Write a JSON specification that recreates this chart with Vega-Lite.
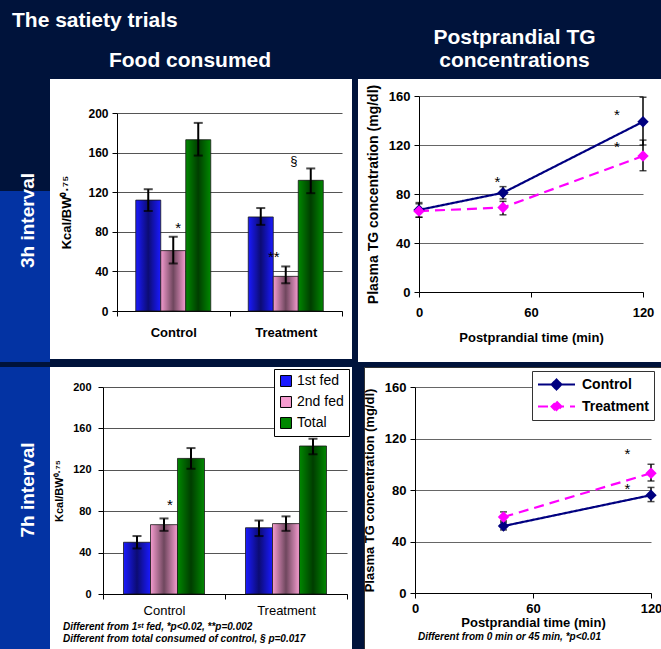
{
  "$schema": "https://vega.github.io/schema/vega-lite/v6.json",
  "background": "#00133b",
  "padding": {"left": 0, "top": 10, "right": 0, "bottom": 0},
  "config": {
    "font": "Liberation Sans",
    "view": {"stroke": null},
    "axis": {"labelColor": "black", "titleColor": "black", "domainColor": "black", "tickColor": "black", "labelFont": "Liberation Sans", "titleFont": "Liberation Sans"},
    "title": {"font": "Liberation Sans"}
  },
  "datasets": {
    "bars3h": [
      {"group": "Control", "series": "1st fed", "value": 112, "lo": 101, "hi": 123},
      {"group": "Control", "series": "2nd fed", "value": 61, "lo": 48, "hi": 75},
      {"group": "Control", "series": "Total", "value": 173, "lo": 157, "hi": 190},
      {"group": "Treatment", "series": "1st fed", "value": 95, "lo": 87, "hi": 104},
      {"group": "Treatment", "series": "2nd fed", "value": 35, "lo": 28, "hi": 45},
      {"group": "Treatment", "series": "Total", "value": 132, "lo": 119, "hi": 144}
    ],
    "bars7h": [
      {"group": "Control", "series": "1st fed", "value": 50, "lo": 44, "hi": 56},
      {"group": "Control", "series": "2nd fed", "value": 67, "lo": 61, "hi": 73},
      {"group": "Control", "series": "Total", "value": 131, "lo": 121, "hi": 141},
      {"group": "Treatment", "series": "1st fed", "value": 64, "lo": 56, "hi": 71},
      {"group": "Treatment", "series": "2nd fed", "value": 68, "lo": 61, "hi": 75},
      {"group": "Treatment", "series": "Total", "value": 143, "lo": 135, "hi": 150}
    ],
    "ann3h": [
      {"group": "Control", "series": "2nd fed", "value": 88, "label": "*"},
      {"group": "Treatment", "series": "2nd fed", "value": 59, "label": "**"},
      {"group": "Treatment", "series": "Total", "value": 152, "label": "§"}
    ],
    "ann7h": [
      {"group": "Control", "series": "2nd fed", "value": 90, "label": "*"}
    ],
    "tg3h": [
      {"time": 0, "grp": "Control", "tg": 67, "lo": 61, "hi": 73},
      {"time": 45, "grp": "Control", "tg": 81, "lo": 76, "hi": 86},
      {"time": 120, "grp": "Control", "tg": 139, "lo": 120, "hi": 159},
      {"time": 0, "grp": "Treatment", "tg": 66, "lo": 61, "hi": 72},
      {"time": 45, "grp": "Treatment", "tg": 69, "lo": 63, "hi": 74},
      {"time": 120, "grp": "Treatment", "tg": 111, "lo": 99, "hi": 124}
    ],
    "tg7h": [
      {"time": 45, "grp": "Control", "tg": 52, "lo": 49, "hi": 55},
      {"time": 120, "grp": "Control", "tg": 76, "lo": 71, "hi": 82},
      {"time": 45, "grp": "Treatment", "tg": 59, "lo": 56, "hi": 63},
      {"time": 120, "grp": "Treatment", "tg": 93, "lo": 87, "hi": 100}
    ],
    "stars3h": [
      {"time": 42, "tg": 93, "label": "*"},
      {"time": 106, "tg": 148, "label": "*"},
      {"time": 106, "tg": 122, "label": "*"}
    ],
    "stars7h": [
      {"time": 108, "tg": 111, "label": "*"},
      {"time": 108, "tg": 84, "label": "*"}
    ]
  },
  "title": {"text": "The satiety trials", "anchor": "start", "dx": 12, "offset": -4, "fontSize": 21, "fontWeight": "bold", "color": "white"},
  "resolve": {"scale": {"color": "independent", "strokeDash": "independent", "xOffset": "independent"}, "legend": {"color": "independent"}},
  "spacing": 4,
  "vconcat": [
    {
      "spacing": 0,
      "resolve": {"scale": {"color": "independent", "strokeDash": "independent", "xOffset": "independent"}, "legend": {"color": "independent"}},
      "hconcat": [
        {
          "width": 50, "height": 283,
          "view": {"stroke": null, "fill": {"gradient": "linear", "x1": 0, "y1": 0, "x2": 0, "y2": 1, "stops": [{"offset": 0, "color": "#00133b"}, {"offset": 0.396, "color": "#00133b"}, {"offset": 0.397, "color": "#0333a3"}, {"offset": 1, "color": "#0333a3"}]}},
          "data": {"values": [{"label": "3h interval"}]},
          "mark": {"type": "text", "angle": 270, "fontSize": 19, "fontWeight": "bold", "color": "white", "dy": 3},
          "encoding": {"text": {"field": "label"}}
        },
        {
          "spacing": 6,
          "resolve": {"scale": {"color": "independent", "strokeDash": "independent", "xOffset": "independent"}, "legend": {"color": "independent"}},
          "hconcat": [
            {
              "width": 302, "height": 280,
              "view": {"fill": "white", "stroke": null},
              "title": {"text": "Food consumed", "fontSize": 21, "fontWeight": "bold", "color": "white", "offset": 8, "dx": -11},
              "data": {"name": "bars3h"},
              "encoding": {
                "x": {"field": "group", "type": "nominal", "sort": ["Control", "Treatment"],
                  "scale": {"range": [67, 292], "paddingInner": 0, "paddingOuter": 0},
                  "axis": {"title": null, "offset": -48, "labelAngle": 0, "labelFontSize": 13, "labelFontWeight": "bold", "labelPadding": 10, "tickBand": "extent", "tickSize": 5, "grid": false}},
                "xOffset": {"field": "series", "type": "nominal", "sort": ["1st fed", "2nd fed", "Total"], "scale": {"paddingInner": 0, "paddingOuter": 0.75}}
              },
              "layer": [
                {"mark": {"type": "bar", "stroke": "#1a1a1a", "strokeWidth": 0.8},
                 "encoding": {
                   "y": {"field": "value", "type": "quantitative",
                     "scale": {"domain": [0, 200], "range": [232, 34], "nice": false},
                     "axis": {"title": "Kcal/BW⁰·⁷⁵", "offset": -67, "values": [0, 40, 80, 120, 160, 200], "labelFontSize": 12, "labelFontWeight": "bold", "tickSize": 5, "labelPadding": 4, "titleFontSize": 13, "titleFontWeight": "bold", "titlePadding": 14, "grid": true, "gridColor": "#555"}},
                   "color": {"field": "series", "type": "nominal", "scale": {"domain": ["1st fed", "2nd fed", "Total"], "range": ["#1a1aff", "#f59ccf", "#008800"]}, "legend": null}}},
                {"mark": {"type": "bar", "fill": {"gradient": "linear", "x1": 0, "y1": 0, "x2": 1, "y2": 0, "stops": [{"offset": 0, "color": "rgba(0,0,0,0)"}, {"offset": 0.5, "color": "rgba(0,0,0,0.55)"}, {"offset": 1, "color": "rgba(0,0,0,0)"}]}, "stroke": null},
                 "encoding": {"y": {"field": "value", "type": "quantitative"}}},
                {"mark": {"type": "rule", "color": "black", "strokeWidth": 2},
                 "encoding": {"y": {"field": "lo", "type": "quantitative"}, "y2": {"field": "hi"}}},
                {"mark": {"type": "tick", "orient": "horizontal", "color": "black", "size": 9, "thickness": 2},
                 "encoding": {"y": {"field": "lo", "type": "quantitative"}}},
                {"mark": {"type": "tick", "orient": "horizontal", "color": "black", "size": 9, "thickness": 2},
                 "encoding": {"y": {"field": "hi", "type": "quantitative"}}},
                {"data": {"name": "ann3h"}, "transform": [{"filter": "datum.label === '*'"}],
                 "mark": {"type": "text", "fontSize": 15, "dx": 5, "dy": 4, "color": "black"},
                 "encoding": {"y": {"field": "value", "type": "quantitative"}, "text": {"field": "label"}}},
                {"data": {"name": "ann3h"}, "transform": [{"filter": "datum.label === '**'"}],
                 "mark": {"type": "text", "fontSize": 15, "dx": -12, "dy": 4, "color": "black"},
                 "encoding": {"y": {"field": "value", "type": "quantitative"}, "text": {"field": "label"}}},
                {"data": {"name": "ann3h"}, "transform": [{"filter": "datum.label === '§'"}],
                 "mark": {"type": "text", "fontSize": 13, "dx": -17, "color": "black"},
                 "encoding": {"y": {"field": "value", "type": "quantitative"}, "text": {"field": "label"}}}
              ]
            },
            {
              "width": 303, "height": 283,
              "view": {"fill": "white", "stroke": null},
              "title": {"text": ["Postprandial TG", "concentrations"], "fontSize": 21, "fontWeight": "bold", "color": "white", "offset": 8, "lineHeight": 23, "dx": 5},
              "data": {"name": "tg3h"},
              "encoding": {
                "x": {"field": "time", "type": "quantitative",
                  "scale": {"domain": [0, 120], "range": [61, 285], "nice": false},
                  "axis": {"title": "Postprandial time (min)", "values": [0, 60, 120], "offset": -70, "labelFontSize": 13, "labelFontWeight": "bold", "labelPadding": 9, "labelFlush": false, "tickSize": 5, "titleFontSize": 13, "titleFontWeight": "bold", "titlePadding": 12, "grid": false}}
              },
              "layer": [
                {"mark": {"type": "line", "strokeWidth": 2.2},
                 "encoding": {
                   "y": {"field": "tg", "type": "quantitative",
                     "scale": {"domain": [0, 160], "range": [213, 17], "nice": false},
                     "axis": {"title": "Plasma TG concentration (mg/dl)", "offset": -61, "values": [0, 40, 80, 120, 160], "labelFontSize": 13, "labelFontWeight": "bold", "tickSize": 5, "labelPadding": 4, "titleFontSize": 14, "titleFontWeight": "bold", "titlePadding": 8, "grid": true, "gridColor": "#666"}},
                   "color": {"field": "grp", "type": "nominal", "scale": {"domain": ["Control", "Treatment"], "range": ["#000080", "#ff00ff"]}, "legend": null},
                   "strokeDash": {"field": "grp", "type": "nominal", "scale": {"domain": ["Control", "Treatment"], "range": [[1, 0], [10, 6]]}, "legend": null}}},
                {"mark": {"type": "rule", "color": "black", "strokeWidth": 1.5},
                 "encoding": {"y": {"field": "lo", "type": "quantitative"}, "y2": {"field": "hi"}}},
                {"mark": {"type": "tick", "orient": "horizontal", "color": "black", "size": 7, "thickness": 1.5},
                 "encoding": {"y": {"field": "lo", "type": "quantitative"}}},
                {"mark": {"type": "tick", "orient": "horizontal", "color": "black", "size": 7, "thickness": 1.5},
                 "encoding": {"y": {"field": "hi", "type": "quantitative"}}},
                {"mark": {"type": "point", "shape": "diamond", "filled": true, "size": 130, "opacity": 1},
                 "encoding": {"y": {"field": "tg", "type": "quantitative"}, "color": {"field": "grp", "type": "nominal", "legend": null}}},
                {"data": {"name": "stars3h"},
                 "mark": {"type": "text", "fontSize": 15, "dy": 4, "color": "black"},
                 "encoding": {"y": {"field": "tg", "type": "quantitative"}, "text": {"field": "label"}}}
              ]
            }
          ]
        }
      ]
    },
    {
      "spacing": 0,
      "resolve": {"scale": {"color": "independent", "strokeDash": "independent", "xOffset": "independent"}, "legend": {"color": "independent"}},
      "hconcat": [
        {
          "width": 50, "height": 284,
          "view": {"stroke": null, "fill": "#0333a3"},
          "data": {"values": [{"label": "7h interval"}]},
          "mark": {"type": "text", "angle": 270, "fontSize": 19, "fontWeight": "bold", "color": "white", "dy": 3, "dx": 19},
          "encoding": {"text": {"field": "label"}}
        },
        {
          "spacing": 10,
          "resolve": {"scale": {"color": "independent", "strokeDash": "independent", "xOffset": "independent"}, "legend": {"color": "independent"}},
          "hconcat": [
            {
              "width": 302, "height": 284,
              "view": {"fill": "white", "stroke": null},
              "title": {"text": ["Different from 1ˢᵗ fed, *p<0.02, **p=0.002", "Different from total consumed of control, § p=0.017"], "orient": "bottom", "anchor": "start", "offset": -29, "dx": 13, "fontSize": 10, "fontStyle": "italic", "fontWeight": "bold", "color": "black", "lineHeight": 12},
              "data": {"name": "bars7h"},
              "encoding": {
                "x": {"field": "group", "type": "nominal", "sort": ["Control", "Treatment"],
                  "scale": {"range": [53, 297], "paddingInner": 0, "paddingOuter": 0},
                  "axis": {"title": null, "offset": -57, "labelAngle": 0, "labelFontSize": 13, "labelPadding": 5, "tickBand": "extent", "tickSize": 5, "grid": false}},
                "xOffset": {"field": "series", "type": "nominal", "sort": ["1st fed", "2nd fed", "Total"], "scale": {"paddingInner": 0, "paddingOuter": 0.76}}
              },
              "layer": [
                {"mark": {"type": "bar", "stroke": "#1a1a1a", "strokeWidth": 0.8},
                 "encoding": {
                   "y": {"field": "value", "type": "quantitative",
                     "scale": {"domain": [0, 200], "range": [227, 20], "nice": false},
                     "axis": {"title": "Kcal/BW⁰·⁷⁵", "offset": -53, "values": [0, 40, 80, 120, 160, 200], "labelFontSize": 11, "labelFontWeight": "bold", "tickSize": 5, "labelPadding": 7, "titleFontSize": 11, "titleFontWeight": "bold", "titlePadding": 8, "grid": true, "gridColor": "#555"}},
                   "color": {"field": "series", "type": "nominal", "scale": {"domain": ["1st fed", "2nd fed", "Total"], "range": ["#1a1aff", "#f59ccf", "#008800"]},
                     "legend": {"orient": "none", "legendX": 224, "legendY": 2, "title": null, "symbolType": "square", "symbolSize": 120, "symbolStrokeColor": "black", "symbolStrokeWidth": 1, "labelFontSize": 14, "labelColor": "black", "strokeColor": "black", "fillColor": "white", "padding": 5, "rowPadding": 5, "labelOffset": 4}}}},
                {"mark": {"type": "bar", "fill": {"gradient": "linear", "x1": 0, "y1": 0, "x2": 1, "y2": 0, "stops": [{"offset": 0, "color": "rgba(0,0,0,0)"}, {"offset": 0.5, "color": "rgba(0,0,0,0.55)"}, {"offset": 1, "color": "rgba(0,0,0,0)"}]}, "stroke": null},
                 "encoding": {"y": {"field": "value", "type": "quantitative"}}},
                {"mark": {"type": "rule", "color": "black", "strokeWidth": 2},
                 "encoding": {"y": {"field": "lo", "type": "quantitative"}, "y2": {"field": "hi"}}},
                {"mark": {"type": "tick", "orient": "horizontal", "color": "black", "size": 9, "thickness": 2},
                 "encoding": {"y": {"field": "lo", "type": "quantitative"}}},
                {"mark": {"type": "tick", "orient": "horizontal", "color": "black", "size": 9, "thickness": 2},
                 "encoding": {"y": {"field": "hi", "type": "quantitative"}}},
                {"data": {"name": "ann7h"},
                 "mark": {"type": "text", "fontSize": 15, "dx": 6, "dy": 4, "color": "black"},
                 "encoding": {"y": {"field": "value", "type": "quantitative"}, "text": {"field": "label"}}}
              ]
            },
            {
              "width": 299, "height": 284,
              "view": {"fill": "white", "stroke": "#333", "strokeWidth": 1},
              "title": {"text": "Different from 0 min or 45 min, *p<0.01", "orient": "bottom", "anchor": "middle", "offset": -19, "dx": -4, "fontSize": 10, "fontStyle": "italic", "fontWeight": "bold", "color": "black"},
              "data": {"name": "tg7h"},
              "encoding": {
                "x": {"field": "time", "type": "quantitative",
                  "scale": {"domain": [0, 120], "range": [51, 287], "nice": false},
                  "axis": {"title": "Postprandial time (min)", "values": [0, 60, 120], "offset": -58, "labelFontSize": 13, "labelFontWeight": "bold", "labelPadding": 4, "labelFlush": false, "tickSize": 5, "titleFontSize": 13, "titleFontWeight": "bold", "titlePadding": 1, "grid": false}}
              },
              "layer": [
                {"mark": {"type": "line", "strokeWidth": 2.2},
                 "encoding": {
                   "y": {"field": "tg", "type": "quantitative",
                     "scale": {"domain": [0, 160], "range": [226, 20], "nice": false},
                     "axis": {"title": "Plasma TG concentration (mg/dl)", "offset": -51, "values": [0, 40, 80, 120, 160], "labelFontSize": 13, "labelFontWeight": "bold", "tickSize": 5, "labelPadding": 4, "titleFontSize": 13, "titleFontWeight": "bold", "titlePadding": 8, "grid": true, "gridColor": "#666"}},
                   "color": {"field": "grp", "type": "nominal", "scale": {"domain": ["Control", "Treatment"], "range": ["#000080", "#ff00ff"]},
                     "legend": {"orient": "none", "legendX": 168, "legendY": 4, "title": null, "symbolType": "M-1,0H1M0,-0.27L0.27,0L0,0.27L-0.27,0Z", "symbolSize": 1369, "clipHeight": 17, "labelFontSize": 14, "labelFontWeight": "bold", "labelColor": "black", "strokeColor": "#333", "fillColor": "white", "padding": 5, "rowPadding": 5, "labelOffset": 6,
                       "encode": {"symbols": {"update": {"fill": {"signal": "datum.value === 'Control' ? '#000080' : '#ff00ff'"}, "stroke": {"signal": "datum.value === 'Control' ? '#000080' : '#ff00ff'"}, "strokeWidth": {"value": 2}, "strokeDash": {"signal": "datum.value === 'Control' ? [1,0] : [7,4]"}}}}}},
                   "strokeDash": {"field": "grp", "type": "nominal", "scale": {"domain": ["Control", "Treatment"], "range": [[1, 0], [10, 6]]}, "legend": null}}},
                {"mark": {"type": "rule", "color": "black", "strokeWidth": 1.5},
                 "encoding": {"y": {"field": "lo", "type": "quantitative"}, "y2": {"field": "hi"}}},
                {"mark": {"type": "tick", "orient": "horizontal", "color": "black", "size": 7, "thickness": 1.5},
                 "encoding": {"y": {"field": "lo", "type": "quantitative"}}},
                {"mark": {"type": "tick", "orient": "horizontal", "color": "black", "size": 7, "thickness": 1.5},
                 "encoding": {"y": {"field": "hi", "type": "quantitative"}}},
                {"mark": {"type": "point", "shape": "diamond", "filled": true, "size": 130, "opacity": 1},
                 "encoding": {"y": {"field": "tg", "type": "quantitative"}, "color": {"field": "grp", "type": "nominal"}}},
                {"data": {"name": "stars7h"},
                 "mark": {"type": "text", "fontSize": 15, "dy": 4, "color": "black"},
                 "encoding": {"y": {"field": "tg", "type": "quantitative"}, "text": {"field": "label"}}}
              ]
            }
          ]
        }
      ]
    }
  ]
}
